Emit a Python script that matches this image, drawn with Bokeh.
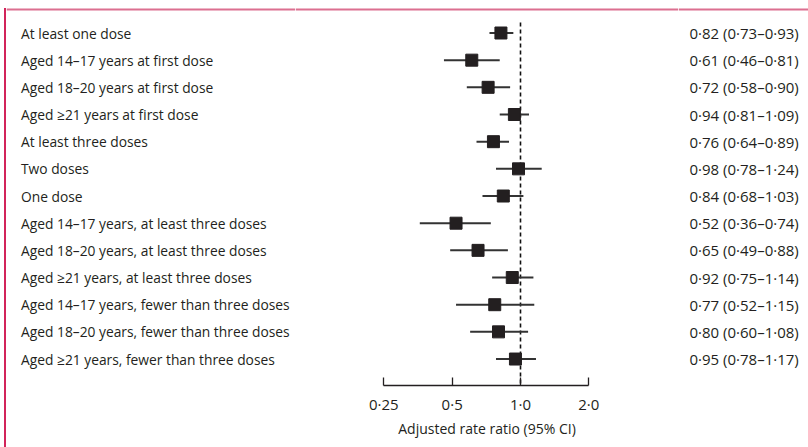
from bokeh.plotting import figure
from bokeh.models import Range1d, FixedTicker, Span, ColumnDataSource, Spacer
from bokeh.layouts import row
from bokeh.core.properties import value
from bokeh.embed import file_html
from bokeh.resources import INLINE

labels = [
    "At least one dose",
    "Aged 14\u201317 years at first dose",
    "Aged 18\u201320 years at first dose",
    "Aged \u226521 years at first dose",
    "At least three doses",
    "Two doses",
    "One dose",
    "Aged 14\u201317 years, at least three doses",
    "Aged 18\u201320 years, at least three doses",
    "Aged \u226521 years, at least three doses",
    "Aged 14\u201317 years, fewer than three doses",
    "Aged 18\u201320 years, fewer than three doses",
    "Aged \u226521 years, fewer than three doses",
]
estimate = [0.82, 0.61, 0.72, 0.94, 0.76, 0.98, 0.84, 0.52, 0.65, 0.92, 0.77, 0.80, 0.95]
lower = [0.73, 0.46, 0.58, 0.81, 0.64, 0.78, 0.68, 0.36, 0.49, 0.75, 0.52, 0.60, 0.78]
upper = [0.93, 0.81, 0.90, 1.09, 0.89, 1.24, 1.03, 0.74, 0.88, 1.14, 1.15, 1.08, 1.17]
tick_values = [0.25, 0.5, 1.0, 2.0]
tick_labels = ["0\u00b725", "0\u00b75", "1\u00b70", "2\u00b70"]
axis_title = "Adjusted rate ratio (95% CI)"


def fmt(v):
    return f"{v:.2f}".replace(".", "\u00b7")


ci_text = [f"{fmt(e)} ({fmt(l)}\u2013{fmt(u)})" for e, l, u in zip(estimate, lower, upper)]
rows = list(range(len(labels)))

# ---- layout (page pixels) ----
TOTAL_W, H = 808, 447
PAD_W = 6
LEFT_END, MID_END = 295, 678
X_REF = 520.0              # pixel of ratio 1.0
PX_PER_DOUBLING = 68.33
ROW0, ROW_STEP = 32.5, 27.17
AXIS_Y = 385.0
BOTTOM = int(H - AXIS_Y)


def px_to_x(px):
    return 2 ** ((px - X_REF) / PX_PER_DOUBLING)


def py_to_row(py):
    return (py - ROW0) / ROW_STEP


FONT = "Open Sans"
TXT = "#231f20"
PINK_TOP = "#dc6f90"
PINK_LEFT = "#d2245a"
Y_RANGE = (py_to_row(AXIS_Y), py_to_row(0))


def base(width, **kw):
    f = figure(width=width, height=H, output_backend="svg", toolbar_location=None,
               min_border_left=0, min_border_right=0, min_border_top=0,
               min_border_bottom=BOTTOM, y_range=Range1d(*Y_RANGE), **kw)
    f.outline_line_color = None
    f.grid.visible = False
    f.add_layout(Span(location=py_to_row(9), dimension="width",
                      line_color=PINK_TOP, line_width=2))
    return f


# ---- left: row labels ----
left = base(LEFT_END - PAD_W, x_range=Range1d(PAD_W, LEFT_END),
            x_axis_location=None, y_axis_location=None)
left.styles = {"box-shadow": f"-2px 8px 0px 0px {PINK_LEFT}"}
lsrc = ColumnDataSource(dict(row=rows, lab=labels, lx=[20.5] * len(rows)))
left.text(x="lx", y="row", text="lab", source=lsrc, text_font=value(FONT),
          text_font_size="13.8px", text_color=TXT, text_baseline="middle", text_align="left")

# ---- middle: forest plot ----
mid = base(MID_END - LEFT_END, x_axis_type="log",
           x_range=Range1d(px_to_x(LEFT_END), px_to_x(MID_END)),
           y_axis_location=None)
xa = mid.xaxis[0]
xa.bounds = (tick_values[0], tick_values[-1])
xa.ticker = FixedTicker(ticks=tick_values)
xa.major_label_overrides = {t: s for t, s in zip(tick_values, tick_labels)}
xa.minor_tick_line_color = None
xa.major_tick_in = 8
xa.major_tick_out = 0
xa.major_label_standoff = 8
xa.axis_line_color = TXT
xa.major_tick_line_color = TXT
xa.axis_line_width = 1.3
xa.major_tick_line_width = 1.3
xa.major_label_text_font = FONT
xa.major_label_text_font_size = "15px"
xa.major_label_text_color = TXT
xa.axis_label = axis_title
xa.axis_label_text_font = FONT
xa.axis_label_text_font_size = "14px"
xa.axis_label_text_font_style = "normal"
xa.axis_label_text_color = TXT
xa.axis_label_standoff = 2

mid.segment(x0=[1.0], x1=[1.0], y0=[py_to_row(22)], y1=[py_to_row(AXIS_Y)],
            line_color="#111111", line_width=1.6, line_dash="4 3")

src = ColumnDataSource(dict(row=rows, est=estimate, lo=lower, hi=upper))
mid.segment(x0="lo", x1="hi", y0="row", y1="row", source=src,
            line_color="#333333", line_width=2)
mid.scatter(x="est", y="row", source=src, marker="square", size=12,
            fill_color="#231f20", line_color="#231f20")

# ---- right: estimates text ----
right = base(TOTAL_W - MID_END, x_range=Range1d(MID_END, TOTAL_W),
             x_axis_location=None, y_axis_location=None)
rsrc = ColumnDataSource(dict(row=rows, ci=ci_text, rx=[689] * len(rows)))
right.text(x="rx", y="row", text="ci", source=rsrc, text_font=value(FONT),
           text_font_size="15px", text_color=TXT, text_baseline="middle", text_align="left")

layout = row(Spacer(width=PAD_W, height=H), left, mid, right, spacing=0)
open("out.html", "w").write(file_html(layout, INLINE))
